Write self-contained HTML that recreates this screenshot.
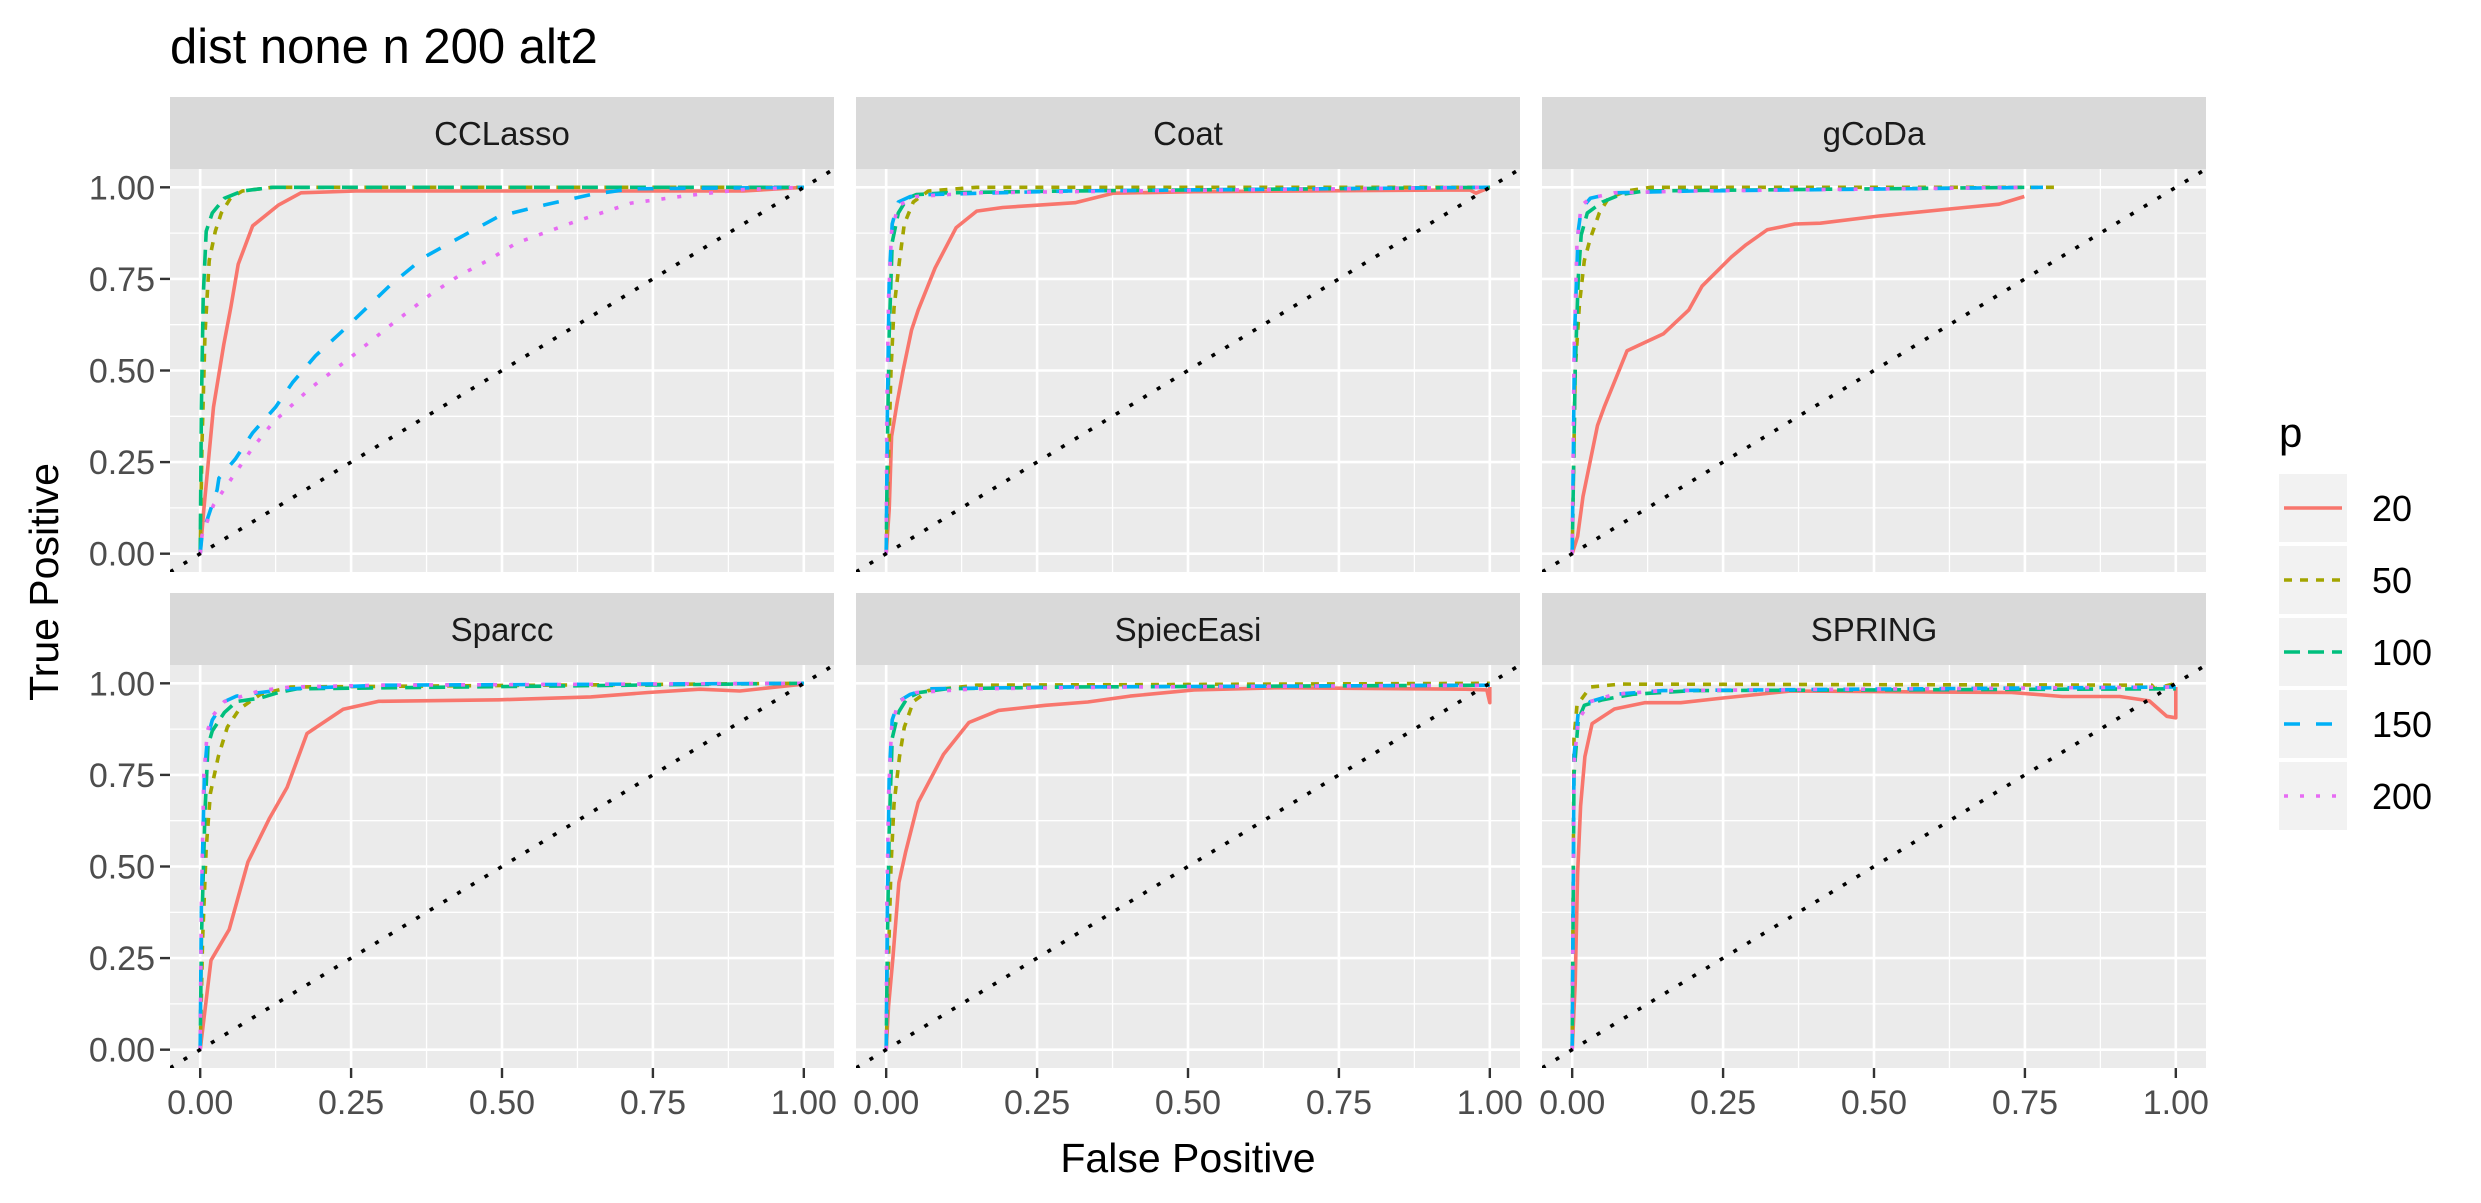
<!DOCTYPE html>
<html><head><meta charset="utf-8"><style>
html,body{margin:0;padding:0;background:#fff}
svg{display:block;font-family:"Liberation Sans",Arial,sans-serif}
</style></head><body>
<svg id="chart" width="2481" height="1203" viewBox="0 0 2481 1203">
<text x="170" y="63" font-size="49" fill="#000">dist none n 200 alt2</text>
<text transform="translate(58,582) rotate(-90)" text-anchor="middle" font-size="41" fill="#000">True Positive</text>
<text x="1188" y="1172" text-anchor="middle" font-size="41" fill="#000">False Positive</text>
<g id="legend">
<text x="2279" y="447" font-size="42" fill="#000">p</text>
</g>
</svg>
<script>
const panelNames = ["CCLasso","Coat","gCoDa","Sparcc","SpiecEasi","SPRING"];
const seriesLabels = ["20","50","100","150","200"];
const xTicks = [0,0.25,0.5,0.75,1];
const yTicks = [0,0.25,0.5,0.75,1];
const xTickLabels = ["0.00","0.25","0.50","0.75","1.00"];
const yTickLabels = ["0.00","0.25","0.50","0.75","1.00"];

// CCLasso
const fp_CCLasso_20 = [0,0.006,0.022,0.039,0.051,0.063,0.087,0.13,0.167,0.258,0.62,0.9,1];
const tp_CCLasso_20 = [0,0.12,0.40,0.57,0.675,0.79,0.895,0.952,0.985,0.99,0.99,0.99,1];
const fp_CCLasso_50 = [0,0.003,0.008,0.015,0.025,0.035,0.05,0.07,0.12,1];
const tp_CCLasso_50 = [0,0.3,0.6,0.8,0.88,0.93,0.97,0.99,1,1];
const fp_CCLasso_100 = [0,0.002,0.005,0.01,0.02,0.04,0.07,0.12,1];
const tp_CCLasso_100 = [0,0.4,0.7,0.88,0.93,0.97,0.99,1,1];
const fp_CCLasso_150 = [0,0.003,0.028,0.031,0.058,0.087,0.125,0.153,0.191,0.239,0.315,0.372,0.448,0.495,0.571,0.647,0.714,1];
const tp_CCLasso_150 = [0,0.05,0.174,0.206,0.258,0.33,0.40,0.467,0.54,0.613,0.733,0.81,0.879,0.921,0.952,0.98,0.996,1];
const fp_CCLasso_200 = [0,0.003,0.022,0.039,0.087,0.12,0.182,0.248,0.315,0.381,0.429,0.476,0.524,0.619,0.714,0.809,0.9,1];
const tp_CCLasso_200 = [0,0.05,0.133,0.174,0.289,0.357,0.451,0.534,0.623,0.707,0.759,0.80,0.848,0.905,0.957,0.978,0.994,1];
// Coat
const fp_Coat_20 = [0,0.005,0.009,0.018,0.028,0.042,0.053,0.081,0.116,0.15,0.193,0.257,0.313,0.376,0.51,0.967,0.977,1];
const tp_Coat_20 = [0,0.12,0.32,0.41,0.50,0.61,0.665,0.78,0.89,0.935,0.945,0.952,0.958,0.984,0.988,0.993,0.984,1];
const fp_Coat_50 = [0,0.003,0.008,0.013,0.022,0.03,0.045,0.07,0.15,1];
const tp_Coat_50 = [0,0.2,0.5,0.67,0.8,0.9,0.96,0.99,1,1];
const fp_Coat_100 = [0,0.002,0.005,0.01,0.02,0.035,0.05,0.1,0.3,1];
const tp_Coat_100 = [0,0.3,0.6,0.85,0.93,0.97,0.98,0.985,0.99,1];
const fp_Coat_150 = [0,0.002,0.005,0.01,0.02,0.04,0.07,0.3,1];
const tp_Coat_150 = [0,0.4,0.75,0.9,0.96,0.975,0.98,0.99,1];
const fp_Coat_200 = [0,0.001,0.004,0.009,0.02,0.05,0.15,0.4,1];
const tp_Coat_200 = [0,0.4,0.7,0.88,0.95,0.975,0.985,0.99,1];
// gCoDa
const fp_gCoDa_20 = [0,0.009,0.018,0.042,0.053,0.091,0.151,0.193,0.215,0.264,0.288,0.323,0.369,0.411,0.51,0.65,0.707,0.749];
const tp_gCoDa_20 = [0,0.047,0.156,0.35,0.40,0.554,0.60,0.665,0.73,0.81,0.843,0.884,0.90,0.902,0.922,0.945,0.954,0.975];
const fp_gCoDa_50 = [0,0.005,0.012,0.02,0.03,0.045,0.06,0.09,0.13,0.8];
const tp_gCoDa_50 = [0,0.5,0.68,0.8,0.86,0.93,0.97,0.99,1,1];
const fp_gCoDa_100 = [0,0.005,0.01,0.015,0.025,0.05,0.08,0.12,0.76];
const tp_gCoDa_100 = [0,0.5,0.75,0.87,0.93,0.96,0.98,0.99,1];
const fp_gCoDa_150 = [0,0.004,0.01,0.015,0.03,0.07,0.2,0.78];
const tp_gCoDa_150 = [0,0.6,0.88,0.94,0.97,0.985,0.99,1];
const fp_gCoDa_200 = [0,0.003,0.008,0.015,0.03,0.07,0.2,0.75];
const tp_gCoDa_200 = [0,0.55,0.85,0.95,0.97,0.985,0.99,1];
// Sparcc
const fp_Sparcc_20 = [0,0.018,0.048,0.079,0.115,0.144,0.177,0.237,0.296,0.495,0.647,0.742,0.828,0.894,1];
const tp_Sparcc_20 = [0,0.244,0.328,0.512,0.632,0.716,0.863,0.929,0.951,0.955,0.963,0.975,0.984,0.979,0.998];
const fp_Sparcc_50 = [0,0.004,0.01,0.017,0.03,0.045,0.065,0.1,0.15,1];
const tp_Sparcc_50 = [0,0.3,0.55,0.7,0.8,0.88,0.93,0.97,0.99,1];
const fp_Sparcc_100 = [0,0.002,0.008,0.013,0.02,0.04,0.06,0.1,0.13,0.16,1];
const tp_Sparcc_100 = [0,0.3,0.65,0.83,0.87,0.92,0.95,0.96,0.975,0.985,1];
const fp_Sparcc_150 = [0,0.002,0.007,0.012,0.02,0.04,0.06,0.1,0.15,0.3,1];
const tp_Sparcc_150 = [0,0.4,0.75,0.85,0.9,0.95,0.965,0.975,0.985,0.995,1];
const fp_Sparcc_200 = [0,0.002,0.006,0.012,0.02,0.04,0.07,0.1,0.15,0.3,1];
const tp_Sparcc_200 = [0,0.4,0.75,0.87,0.91,0.95,0.965,0.98,0.99,0.995,1];
// SpiecEasi
const fp_SpiecEasi_20 = [0,0.004,0.011,0.021,0.032,0.053,0.095,0.137,0.186,0.264,0.334,0.404,0.51,0.65,0.96,0.995,1,1];
const tp_SpiecEasi_20 = [0,0.12,0.247,0.456,0.538,0.675,0.806,0.893,0.926,0.94,0.949,0.965,0.982,0.988,0.984,0.982,0.947,0.99];
const fp_SpiecEasi_50 = [0,0.003,0.008,0.013,0.022,0.03,0.045,0.07,0.15,1];
const tp_SpiecEasi_50 = [0,0.2,0.5,0.67,0.8,0.88,0.95,0.98,0.995,1];
const fp_SpiecEasi_100 = [0,0.002,0.005,0.01,0.02,0.035,0.055,0.1,0.3,1];
const tp_SpiecEasi_100 = [0,0.3,0.6,0.85,0.92,0.96,0.975,0.985,0.99,0.995];
const fp_SpiecEasi_150 = [0,0.002,0.005,0.01,0.02,0.04,0.07,0.3,1];
const tp_SpiecEasi_150 = [0,0.4,0.75,0.9,0.95,0.97,0.985,0.99,0.995];
const fp_SpiecEasi_200 = [0,0.001,0.004,0.009,0.02,0.05,0.15,0.4,1];
const tp_SpiecEasi_200 = [0,0.4,0.7,0.88,0.95,0.975,0.985,0.99,0.995];
// SPRING
const fp_SPRING_20 = [0,0.005,0.009,0.014,0.021,0.033,0.07,0.12,0.18,0.25,0.362,0.608,0.728,0.812,0.907,0.956,0.985,1,1];
const tp_SPRING_20 = [0,0.18,0.48,0.665,0.80,0.89,0.93,0.947,0.947,0.96,0.979,0.976,0.975,0.964,0.964,0.952,0.91,0.906,0.99];
const fp_SPRING_50 = [0,0.003,0.008,0.03,0.08,0.96,0.965,1];
const tp_SPRING_50 = [0,0.85,0.94,0.99,0.998,0.995,0.985,1];
const fp_SPRING_100 = [0,0.003,0.01,0.02,0.05,0.1,0.2,1];
const tp_SPRING_100 = [0,0.75,0.9,0.94,0.955,0.97,0.98,0.985];
const fp_SPRING_150 = [0,0.003,0.01,0.03,0.07,0.15,1];
const tp_SPRING_150 = [0,0.8,0.92,0.95,0.97,0.98,0.99];
const fp_SPRING_200 = [0,0.003,0.01,0.03,0.07,0.15,1];
const tp_SPRING_200 = [0,0.78,0.9,0.95,0.97,0.98,0.99];

const seriesData = {
 CCLasso:[[fp_CCLasso_20,tp_CCLasso_20],[fp_CCLasso_50,tp_CCLasso_50],[fp_CCLasso_100,tp_CCLasso_100],[fp_CCLasso_150,tp_CCLasso_150],[fp_CCLasso_200,tp_CCLasso_200]],
 Coat:[[fp_Coat_20,tp_Coat_20],[fp_Coat_50,tp_Coat_50],[fp_Coat_100,tp_Coat_100],[fp_Coat_150,tp_Coat_150],[fp_Coat_200,tp_Coat_200]],
 gCoDa:[[fp_gCoDa_20,tp_gCoDa_20],[fp_gCoDa_50,tp_gCoDa_50],[fp_gCoDa_100,tp_gCoDa_100],[fp_gCoDa_150,tp_gCoDa_150],[fp_gCoDa_200,tp_gCoDa_200]],
 Sparcc:[[fp_Sparcc_20,tp_Sparcc_20],[fp_Sparcc_50,tp_Sparcc_50],[fp_Sparcc_100,tp_Sparcc_100],[fp_Sparcc_150,tp_Sparcc_150],[fp_Sparcc_200,tp_Sparcc_200]],
 SpiecEasi:[[fp_SpiecEasi_20,tp_SpiecEasi_20],[fp_SpiecEasi_50,tp_SpiecEasi_50],[fp_SpiecEasi_100,tp_SpiecEasi_100],[fp_SpiecEasi_150,tp_SpiecEasi_150],[fp_SpiecEasi_200,tp_SpiecEasi_200]],
 SPRING:[[fp_SPRING_20,tp_SPRING_20],[fp_SPRING_50,tp_SPRING_50],[fp_SPRING_100,tp_SPRING_100],[fp_SPRING_150,tp_SPRING_150],[fp_SPRING_200,tp_SPRING_200]]
};

const colors = ["#F8766D","#A3A500","#00BF7D","#00B0F6","#E76BF3"];
const dashes = ["none","8 8","16 8","16 16","4 12"];
const LW = 3.6;
const NS = "http://www.w3.org/2000/svg";
const svg = document.getElementById("chart");
const colX = [170,856,1542], rowStrip = [97,593], PW = 664, PH = 403, SH = 72;
function mk(tag, attrs, parent){ const e=document.createElementNS(NS,tag); for(const k in attrs) e.setAttribute(k,attrs[k]); (parent||svg).appendChild(e); return e; }

panelNames.forEach((name, i) => {
  const col = i % 3, row = Math.floor(i / 3);
  const x0 = colX[col], sy = rowStrip[row], y0 = sy + SH;
  const sx = v => x0 + (v + 0.05) / 1.1 * PW;
  const syv = v => y0 + PH - (v + 0.05) / 1.1 * PH;
  const g = mk("g", {});
  
  
  const strip = mk("rect", {x:x0, y:sy, width:PW, height:SH, fill:"#D9D9D9"}, g);
  
  
  const st = mk("text", {x:x0 + PW/2, y:sy + SH/2 + 12, "text-anchor":"middle", "font-size":"33", fill:"#1A1A1A"}, g);
  st.textContent = name;
  
  
  const bg = mk("rect", {x:x0, y:y0, width:PW, height:PH, fill:"#EBEBEB"}, g);
  
  
  // minor grid
  [-0.125,0.125,0.375,0.625,0.875,1.125].forEach(v => {
    if (v > -0.05 && v < 1.05) {
      mk("line", {x1:sx(v), x2:sx(v), y1:y0, y2:y0+PH, stroke:"#fff", "stroke-width":1.3}, g);
      mk("line", {x1:x0, x2:x0+PW, y1:syv(v), y2:syv(v), stroke:"#fff", "stroke-width":1.3}, g);
    }
  });
  xTicks.forEach(v => mk("line", {x1:sx(v), x2:sx(v), y1:y0, y2:y0+PH, stroke:"#fff", "stroke-width":2.6}, g));
  yTicks.forEach(v => mk("line", {x1:x0, x2:x0+PW, y1:syv(v), y2:syv(v), stroke:"#fff", "stroke-width":2.6}, g));
  const cid = "clip" + i;
  const cp = mk("clipPath", {id:cid}, g);
  mk("rect", {x:x0, y:y0, width:PW, height:PH}, cp);
  const lg = mk("g", {"clip-path":"url(#"+cid+")"}, g);
  seriesData[name].forEach((s, k) => {
    const d = s[0].map((fx, j) => (j ? "L" : "M") + sx(fx).toFixed(1) + "," + syv(s[1][j]).toFixed(1)).join(" ");
    const p = mk("path", {d:d, fill:"none", stroke:colors[k], "stroke-width":LW, "stroke-dasharray":dashes[k], "stroke-linejoin":"round"}, lg);
    
    
  });
  const diag = mk("line", {x1:sx(-0.05), y1:syv(-0.05), x2:sx(1.05), y2:syv(1.05), stroke:"#000", "stroke-width":LW, "stroke-dasharray":"4 12"}, lg);
  
  
  if (col === 0) {
    yTicks.forEach((v, k) => {
      mk("line", {x1:x0-10, x2:x0, y1:syv(v), y2:syv(v), stroke:"#333", "stroke-width":2.4}, g);
      const t = mk("text", {x:x0-15, y:syv(v)+12, "text-anchor":"end", "font-size":"34", fill:"#4D4D4D"}, g);
      t.textContent = yTickLabels[k];
      
      
    });
  }
  if (row === 1) {
    xTicks.forEach((v, k) => {
      mk("line", {x1:sx(v), x2:sx(v), y1:y0+PH, y2:y0+PH+10, stroke:"#333", "stroke-width":2.4}, g);
      const t = mk("text", {x:sx(v), y:y0+PH+46, "text-anchor":"middle", "font-size":"34", fill:"#4D4D4D"}, g);
      t.textContent = xTickLabels[k];
      
      
    });
  }
});

const legend = document.getElementById("legend");
seriesLabels.forEach((lab, k) => {
  const ty = 474 + k * 72;
  const eg = mk("g", {}, legend);
  
  
  mk("rect", {x:2279, y:ty, width:68, height:68, fill:"#F2F2F2"}, eg);
  mk("line", {x1:2284, x2:2342, y1:ty+34, y2:ty+34, stroke:colors[k], "stroke-width":LW, "stroke-dasharray":dashes[k]}, eg);
  const t = mk("text", {x:2372, y:ty+47, "font-size":"36", fill:"#000"}, eg);
  t.textContent = lab;
});
</script>
</body></html>
